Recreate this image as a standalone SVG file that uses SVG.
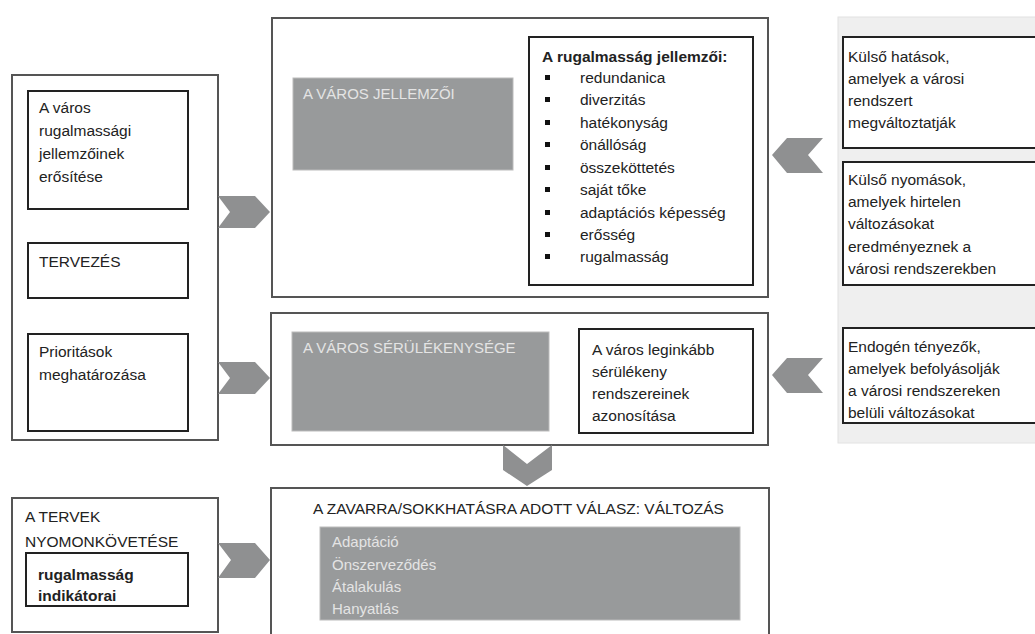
<svg xmlns="http://www.w3.org/2000/svg" width="1035" height="634" viewBox="0 0 1035 634">
<style>
text{font-family:"Liberation Sans",Arial,sans-serif;font-size:15.5px;fill:#222}
.outer{fill:#fff;stroke:#555;stroke-width:2}
.inner{fill:#fff;stroke:#222;stroke-width:2}
.gbox{fill:#989a9b;stroke:#bbb;stroke-width:1}
.gt{fill:#e4e4e4;font-size:15px}
.b{font-weight:bold}
.chev{fill:#8f9091}
.bul{fill:#111}
</style>
<rect width="1035" height="634" fill="#fff"/>

<g id="left-panel">
<rect class="outer" x="12" y="75" width="206" height="365"/>
<g id="n-erosites"><rect class="inner" x="28" y="91" width="160" height="118"/>
<text x="39" y="113">A város</text><text x="39" y="136">rugalmassági</text><text x="39" y="159">jellemzőinek</text><text x="39" y="182">erősítése</text></g>
<g id="n-tervezes"><rect class="inner" x="28" y="243" width="160" height="55"/>
<text x="39" y="267">TERVEZÉS</text></g>
<g id="n-prioritasok"><rect class="inner" x="28" y="334" width="160" height="97"/>
<text x="39" y="357">Prioritások</text><text x="39" y="380">meghatározása</text></g>
</g>

<g id="city-characteristics">
<rect class="outer" x="272" y="18" width="496" height="279"/>
<rect class="gbox" x="293" y="78" width="220" height="92"/>
<text class="gt" x="303" y="99">A VÁROS JELLEMZŐI</text>
<g id="n-rugalmassag-jellemzoi"><rect class="inner" x="529" y="37" width="224" height="248"/>
<text class="b" x="542" y="62">A rugalmasság jellemzői:</text>
<g class="bul">
<rect x="545" y="75" width="5" height="5"/><rect x="545" y="97" width="5" height="5"/><rect x="545" y="120" width="5" height="5"/>
<rect x="545" y="142" width="5" height="5"/><rect x="545" y="165" width="5" height="5"/><rect x="545" y="187" width="5" height="5"/>
<rect x="545" y="210" width="5" height="5"/><rect x="545" y="232" width="5" height="5"/><rect x="545" y="254" width="5" height="5"/>
</g>
<text x="580" y="83">redundanica</text><text x="580" y="105">diverzitás</text><text x="580" y="128">hatékonyság</text>
<text x="580" y="150">önállóság</text><text x="580" y="173">összeköttetés</text><text x="580" y="195">saját tőke</text>
<text x="580" y="218">adaptációs képesség</text><text x="580" y="240">erősség</text><text x="580" y="262">rugalmasság</text>
</g>
</g>

<g id="city-vulnerability">
<rect class="outer" x="271" y="313" width="497" height="132"/>
<rect class="gbox" x="292" y="332" width="257" height="99"/>
<text class="gt" x="303" y="353">A VÁROS SÉRÜLÉKENYSÉGE</text>
<g id="n-azonositas"><rect class="inner" x="579" y="329" width="174" height="104"/>
<text x="592" y="355">A város leginkább</text><text x="592" y="377">sérülékeny</text><text x="592" y="399">rendszereinek</text><text x="592" y="421">azonosítása</text></g>
</g>

<g id="right-panel">
<rect x="838" y="17" width="210" height="426" fill="#efefef" stroke="#e2e2e2" stroke-width="1"/>
<g id="n-kulso-hatasok"><rect class="inner" x="843" y="37" width="200" height="111"/>
<text x="848" y="62">Külső hatások,</text><text x="848" y="84">amelyek a városi</text><text x="848" y="106">rendszert</text><text x="848" y="128">megváltoztatják</text></g>
<g id="n-kulso-nyomasok"><rect class="inner" x="843" y="162" width="200" height="123"/>
<text x="848" y="185">Külső nyomások,</text><text x="848" y="207">amelyek hirtelen</text><text x="848" y="229">változásokat</text><text x="848" y="252">eredményeznek a</text><text x="848" y="274">városi rendszerekben</text></g>
<g id="n-endogen"><rect class="inner" x="843" y="328" width="200" height="95"/>
<text x="848" y="352">Endogén tényezők,</text><text x="848" y="374">amelyek befolyásolják</text><text x="848" y="396">a városi rendszereken</text><text x="848" y="418">belüli változásokat</text></g>
</g>

<g id="n-monitoring">
<rect class="outer" x="12" y="498" width="206" height="134"/>
<text x="25" y="522">A TERVEK</text><text x="25" y="547">NYOMONKÖVETÉSE</text>
<rect class="inner" x="26" y="553" width="162" height="53"/>
<text class="b" x="38" y="580">rugalmasság</text><text class="b" x="38" y="601">indikátorai</text>
</g>

<g id="n-response">
<rect class="outer" x="271" y="488" width="498" height="170"/>
<text x="313" y="514">A ZAVARRA/SOKKHATÁSRA ADOTT VÁLASZ: VÁLTOZÁS</text>
<rect class="gbox" x="320" y="527" width="420" height="93"/>
<text class="gt" x="332" y="547">Adaptáció</text><text class="gt" x="332" y="570">Önszerveződés</text><text class="gt" x="332" y="592">Átalakulás</text><text class="gt" x="332" y="614">Hanyatlás</text>
</g>

<g id="connectors">
<polygon class="chev" points="218,196 255,196 270,212 255,228 218,228 230,212"/>
<polygon class="chev" points="218,362 255,362 270,378 255,394 218,394 230,378"/>
<polygon class="chev" points="218,543 255,543 270,560 255,578 218,578 231,560"/>
<polygon class="chev" points="772,155 787,138 823,138 808,155 823,173 787,173"/>
<polygon class="chev" points="772,375 787,358 823,358 808,375 823,393 787,393"/>
<polygon class="chev" points="503,445 527,464 552,445 552,470 527,486 503,470"/>
</g>
</svg>
